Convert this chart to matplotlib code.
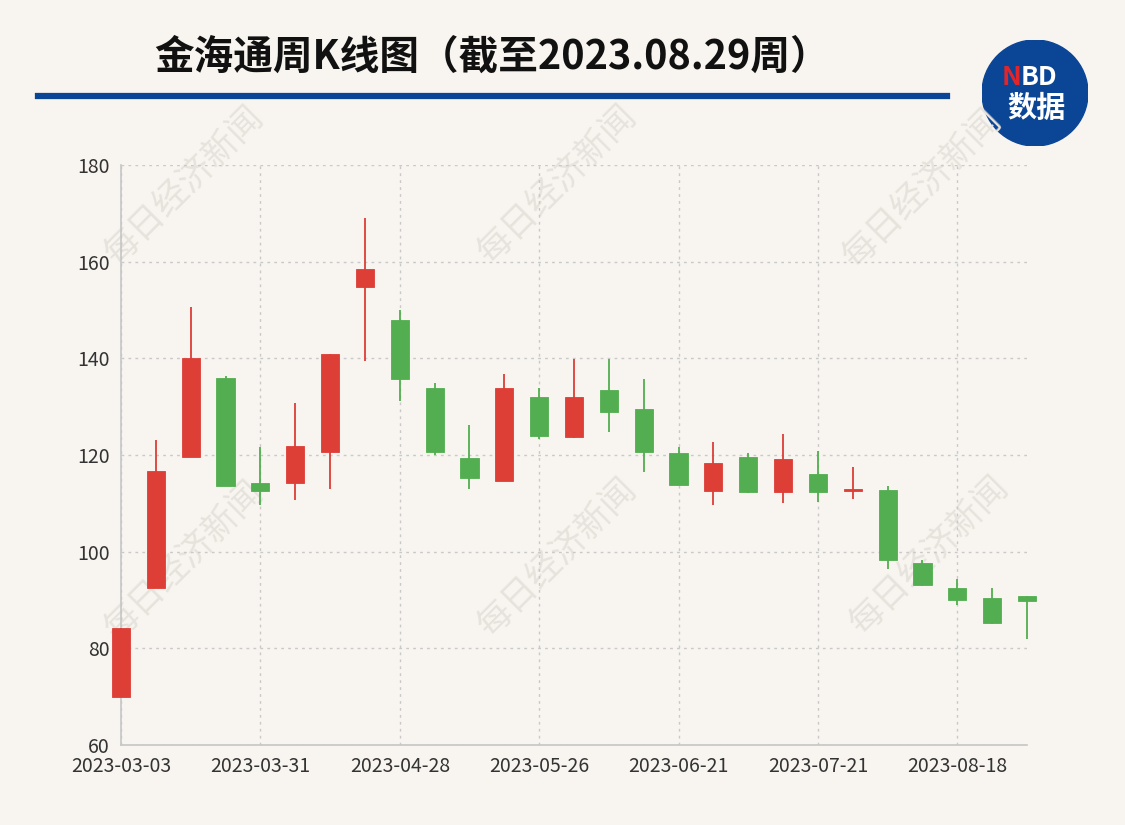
import matplotlib
matplotlib.use("Agg")
import matplotlib.pyplot as plt
from matplotlib.patches import Circle

plt.rcParams['font.family'] = ['Noto Sans CJK SC', 'DejaVu Sans']

# weekly K-line data
dates = ['2023-03-03', '2023-03-10', '2023-03-17', '2023-03-24', '2023-03-31',
         '2023-04-07', '2023-04-14', '2023-04-21', '2023-04-28', '2023-05-05',
         '2023-05-12', '2023-05-19', '2023-05-26', '2023-06-02', '2023-06-09',
         '2023-06-16', '2023-06-21', '2023-06-30', '2023-07-07', '2023-07-14',
         '2023-07-21', '2023-07-28', '2023-08-04', '2023-08-11', '2023-08-18',
         '2023-08-25', '2023-08-29']
opens  = [70.0, 92.4, 119.6, 135.9, 114.3, 114.3, 120.6, 154.8, 147.9, 133.8,
          119.3, 114.6, 131.9, 123.7, 133.5, 129.5, 120.5, 112.5, 119.6, 112.3,
          116.0, 112.6, 112.8, 97.6, 92.4, 90.4, 90.9]
closes = [84.2, 116.7, 140.0, 113.6, 112.6, 121.9, 140.9, 158.5, 135.7, 120.6,
          115.3, 133.8, 124.0, 132.1, 128.8, 120.6, 113.7, 118.3, 112.3, 119.1,
          112.4, 112.9, 98.3, 93.1, 90.0, 85.3, 89.8]
highs  = [84.2, 123.2, 150.6, 136.4, 121.6, 130.8, 140.9, 169.0, 150.1, 135.0,
          126.3, 136.8, 133.8, 139.8, 139.8, 135.7, 121.7, 122.6, 120.5, 124.3,
          120.9, 117.6, 113.5, 98.3, 94.3, 92.4, 90.9]
lows   = [70.0, 92.4, 119.6, 113.6, 109.7, 110.7, 113.0, 139.4, 131.2, 119.9,
          112.9, 114.6, 123.3, 123.5, 124.7, 116.4, 113.7, 109.7, 112.1, 110.0,
          110.2, 110.8, 96.5, 93.0, 89.0, 85.0, 81.9]

up_color = '#dd3e36'
down_color = '#52ae50'
bg = '#f8f5f0'

fig = plt.figure(figsize=(11.25, 8.25), dpi=100, facecolor=bg)

# watermark, behind the chart
for (px, py) in [(184, 185), (557, 184), (922, 188),
                 (184, 560), (557, 557), (929, 555)]:
    fig.text(px / 1125, 1 - py / 825, '每日经济新闻', rotation=45, fontsize=25,
             color='#e6e2dc', ha='center', va='center', zorder=1)

ax = fig.add_axes([121 / 1125, 80 / 825, 906 / 1125, 580 / 825])
ax.set_zorder(2)
ax.patch.set_alpha(0)

x = list(range(len(dates)))
for i in x:
    o, c, h, l = opens[i], closes[i], highs[i], lows[i]
    col = up_color if c >= o else down_color
    ax.vlines(i, l, h, color=col, linewidth=1.3, zorder=3, clip_on=False)
    bottom = min(o, c)
    height = max(abs(c - o), 0.35)
    ax.bar(i, height, bottom=bottom, width=0.52, color=col, edgecolor=col,
           linewidth=0.6, zorder=4, clip_on=False)

ax.set_xlim(0, len(dates) - 1)
ax.set_ylim(60, 180)
ax.set_yticks([60, 80, 100, 120, 140, 160, 180])
ticks = x[::4]
ax.set_xticks(ticks)
ax.set_xticklabels([dates[i] for i in ticks])

ax.grid(True, color='#c9c9c9', linestyle=(0, (2, 3)), linewidth=1)
ax.set_axisbelow(True)
for s in ['top', 'right']:
    ax.spines[s].set_visible(False)
for s in ['left', 'bottom']:
    ax.spines[s].set_color('#c6c6c6')
    ax.spines[s].set_linewidth(1.2)
ax.tick_params(axis='both', length=0, labelsize=14, labelcolor='#333333', pad=8)

# title and header line
fig.text(492 / 1125, 1 - 57 / 825, '金海通周K线图（截至2023.08.29周）', fontsize=28.5,
         fontweight='bold', ha='center', va='center', color='#111111')
fig.add_artist(plt.Line2D([38 / 1125, 947 / 1125], [1 - 96 / 825, 1 - 96 / 825],
                          color='#0b4596', linewidth=4.5))

# NBD logo
logo = fig.add_axes([982 / 1125, 1 - 146 / 825, 106 / 1125, 106 / 825])
logo.set_xlim(-1, 1)
logo.set_ylim(-1, 1)
logo.set_aspect('equal')
logo.axis('off')
logo.add_patch(Circle((0, 0), 1, color='#0b4596'))
logo.text(-0.25, 0.3, 'N', color='#e0262b', fontsize=19, fontweight='bold',
          ha='right', va='center')
logo.text(-0.27, 0.3, 'BD', color='white', fontsize=19, fontweight='bold',
          ha='left', va='center')
logo.text(0.02, -0.28, '数据', color='white', fontsize=21, fontweight='bold',
          ha='center', va='center')

fig.savefig('out.png', dpi=100, facecolor=bg)
